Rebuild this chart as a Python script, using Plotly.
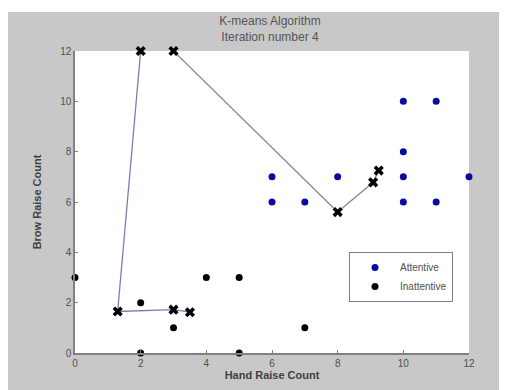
import plotly.graph_objects as go

att_x = [6, 6, 7, 8, 10, 11, 10, 10, 10, 11, 12]
att_y = [7, 6, 6, 7, 10, 10, 8, 7, 6, 6, 7]
ina_x = [0, 2, 2, 3, 4, 5, 5, 7]
ina_y = [3, 2, 0, 1, 3, 3, 0, 1]
c1_x = [2, 1.3, 3, 3.5]
c1_y = [12, 1.65, 1.72, 1.62]
c2_x = [3, 8, 9.08, 9.25]
c2_y = [12, 5.6, 6.78, 7.25]
ticks = [0, 2, 4, 6, 8, 10, 12]

fig = go.Figure()
for cx, cy, col in [(c1_x, c1_y, "#7c7cb4"), (c2_x, c2_y, "#8a8aa8")]:
    fig.add_trace(go.Scatter(x=cx, y=cy, mode="lines+markers", showlegend=False,
                             line=dict(color=col, width=1.3),
                             marker=dict(symbol="x", size=9, color="black"),
                             cliponaxis=False))
fig.add_trace(go.Scatter(x=att_x, y=att_y, mode="markers", name="Attentive",
                         marker=dict(color="#0a0aa0", size=7), cliponaxis=False))
fig.add_trace(go.Scatter(x=ina_x, y=ina_y, mode="markers", name="Inattentive",
                         marker=dict(color="black", size=7), cliponaxis=False))

# page body has an 8px margin, so the figure occupies 8..507 x 8..390
OFF = 8
W, H = 507 - OFF, 390 - OFF
L, R, T, B = 75 - OFF, 38, 51 - OFF, 37
pw, ph = W - L - R, H - T - B

fig.update_layout(
    width=W, height=H,
    margin=dict(l=L, r=R, t=T, b=B),
    paper_bgcolor="#c8c8c8", plot_bgcolor="white",
    font=dict(family="Liberation Sans, Arial", size=10, color="#505050"),
    title=dict(text="K-means Algorithm<br>Iteration number 4", x=(270 - OFF) / W, xanchor="center",
               y=1 - (25 - OFF) / H, yanchor="middle", font=dict(size=12, color="#555555")),
    xaxis=dict(range=[0, 12], tickvals=ticks, showgrid=False, zeroline=False,
               showline=True, linecolor="#808080", linewidth=1.5,
               ticks="inside", ticklen=3, tickcolor="#808080",
               title=dict(text="<b>Hand Raise Count</b>", standoff=2, font=dict(size=11, color="#404040"))),
    yaxis=dict(range=[0, 12], tickvals=ticks, showgrid=False, zeroline=False,
               showline=True, linecolor="#808080", linewidth=1.5,
               ticks="inside", ticklen=3, tickcolor="#808080",
               title=dict(text="<b>Brow Raise Count</b>", standoff=16, font=dict(size=11, color="#404040"))),
    legend=dict(x=(349 - 75) / pw, y=1 - (252 - 51) / ph, xanchor="left", yanchor="top",
                bgcolor="white", bordercolor="#808080", borderwidth=1,
                font=dict(size=10, color="#505050"), itemwidth=40,
                tracegroupgap=0),
)
fig.add_shape(type="rect", xref="paper", yref="paper", x0=-0.2, x1=1.1, y0=1 + (T - 4) / ph, y1=1.2,
              fillcolor="white", line_width=0, layer="above")
fig.write_html("out.html")
